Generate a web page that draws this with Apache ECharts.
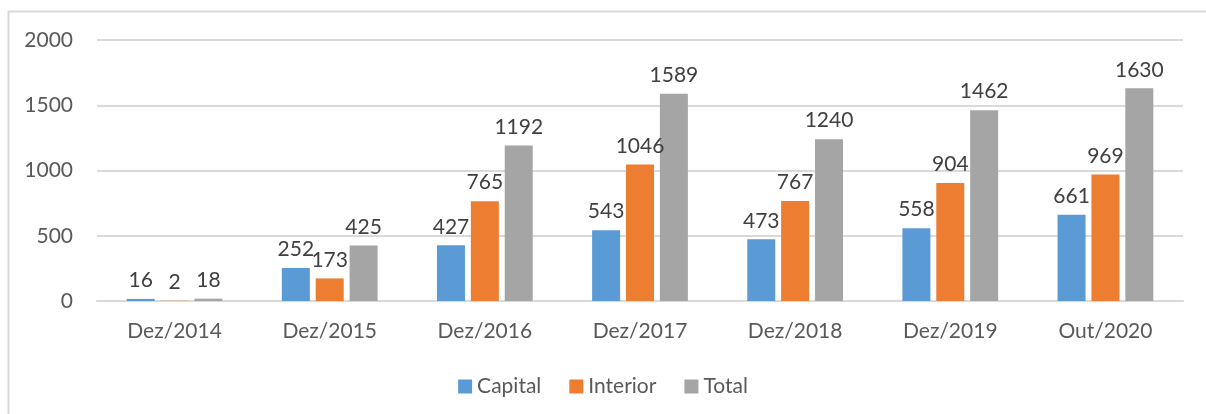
<!DOCTYPE html>
<html><head><meta charset="utf-8">
<script src="https://cdn.jsdelivr.net/npm/echarts@6/dist/echarts.min.js"></script>
<style>html,body{margin:0;padding:0;background:#fff;}#c{width:1206px;height:414px;}</style>
</head><body><div id="c"></div>
<script>
var categories = ['Dez/2014','Dez/2015','Dez/2016','Dez/2017','Dez/2018','Dez/2019','Out/2020'];
var capital = [16, 252, 427, 543, 473, 558, 661];
var interior = [2, 173, 765, 1046, 767, 904, 969];
var total = [18, 425, 1192, 1589, 1240, 1462, 1630];
var seriesNames = ['Capital','Interior','Total'];
var colors = ['#5B9BD5','#ED7D31','#A5A5A5'];
var font = 'Lato, "Open Sans", sans-serif';
function mk(name, data, color){
  return {name:name,type:'bar',data:data,barWidth:28,barGap:'21%',
    itemStyle:{color:color},
    label:{show:true,position:'top',distance:8,color:'#404040',fontSize:21,fontFamily:font}};
}
var chart = echarts.init(document.getElementById('c'));
chart.setOption({
  animation:false,
  graphic:[{type:'rect',shape:{x:8.5,y:11.5,width:1400,height:600},style:{fill:null,stroke:'#d9d9d9',lineWidth:2},silent:true}],
  grid:{left:97,right:23,top:40,bottom:113},
  legend:{bottom:12,left:'center',itemWidth:14,itemHeight:14,itemGap:28,icon:'rect',
    textStyle:{color:'#595959',fontSize:21,fontFamily:font},data:seriesNames},
  xAxis:{type:'category',data:categories,axisTick:{show:false},
    axisLine:{lineStyle:{color:'#d9d9d9',width:2}},
    axisLabel:{color:'#595959',fontSize:21,fontFamily:font,margin:20}},
  yAxis:{type:'value',min:0,max:2000,interval:500,
    axisLabel:{color:'#595959',fontSize:21,fontFamily:font,margin:24,formatter:function(v){return String(v);}},
    splitLine:{lineStyle:{color:'#d9d9d9',width:2}},axisLine:{show:false}},
  series:[mk(seriesNames[0],capital,colors[0]),mk(seriesNames[1],interior,colors[1]),mk(seriesNames[2],total,colors[2])]
});
</script></body></html>
